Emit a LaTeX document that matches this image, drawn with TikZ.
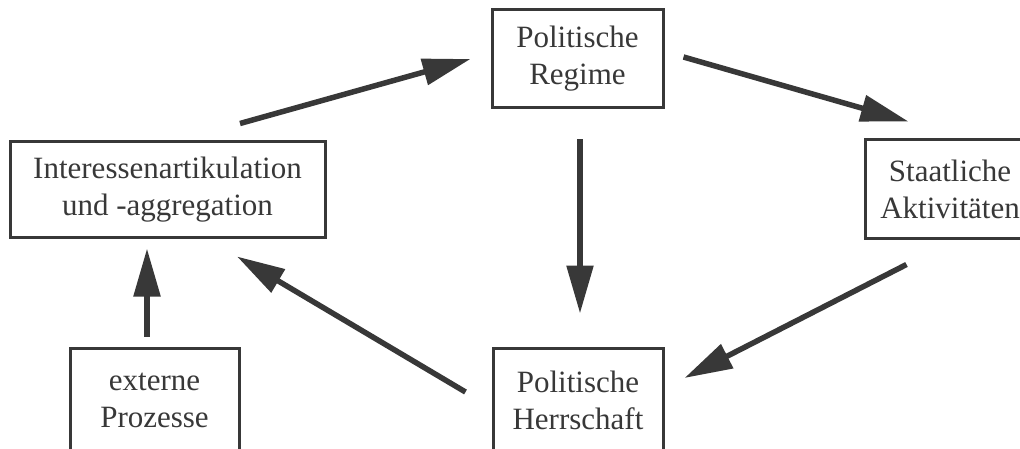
\documentclass[tikz,border=0pt]{standalone}
\usepackage{fontspec}
\setmainfont{Liberation Serif}
\usetikzlibrary{arrows.meta,calc}
\definecolor{ink}{HTML}{383838}
\begin{document}
\begin{tikzpicture}[x=1pt,y=-1pt,
  box/.style={draw=ink, line width=3pt, text=ink, align=center, inner sep=0pt,
    font=\fontsize{31}{37}\selectfont},
  flow/.style={draw=ink, line width=5.5pt, -{Triangle[length=48pt,width=26pt]}, ink}]
\useasboundingbox (0,0) rectangle (1020,449);
\clip (0,0) rectangle (1020,449);
\node[box, minimum width=171pt, minimum height=98pt] (top) at (577.5,59) {Politische\\Regime};
\node[box, minimum width=315pt, minimum height=96pt] (left) at (167.5,190) {Interessenartikulation\\und -aggregation};
\node[box, minimum width=170pt, minimum height=99pt] (right) at (950,189.5) {Staatliche\\Aktivitäten};
\node[box, minimum width=169pt, minimum height=104pt] (ext) at (154.5,400) {externe\\Prozesse};
\node[box, minimum width=170pt, minimum height=104pt] (bot) at (578,400) {Politische\\Herrschaft};
\draw[flow] ($(left.north)+(72.5,-17)$) -- ($(top.west)+(-20,0)$);
\draw[flow] ($(top.east)+(19,-2)$) -- ($(right.north west)+(45,-17)$);
\draw[flow] ($(top.south)+(2.5,30)$) -- ($(bot.north)+(2,-33)$);
\draw[flow] ($(right.south west)+(43,24)$) -- ($(bot.east)+(20,-22)$);
\draw[flow] ($(bot.west)+(-26,-8)$) -- ($(left.south)+(69.5,17)$);
\draw[flow] ($(ext.north)+(-7.5,-10)$) -- ($(left.south)+(-20.5,9)$);
\end{tikzpicture}
\end{document}
